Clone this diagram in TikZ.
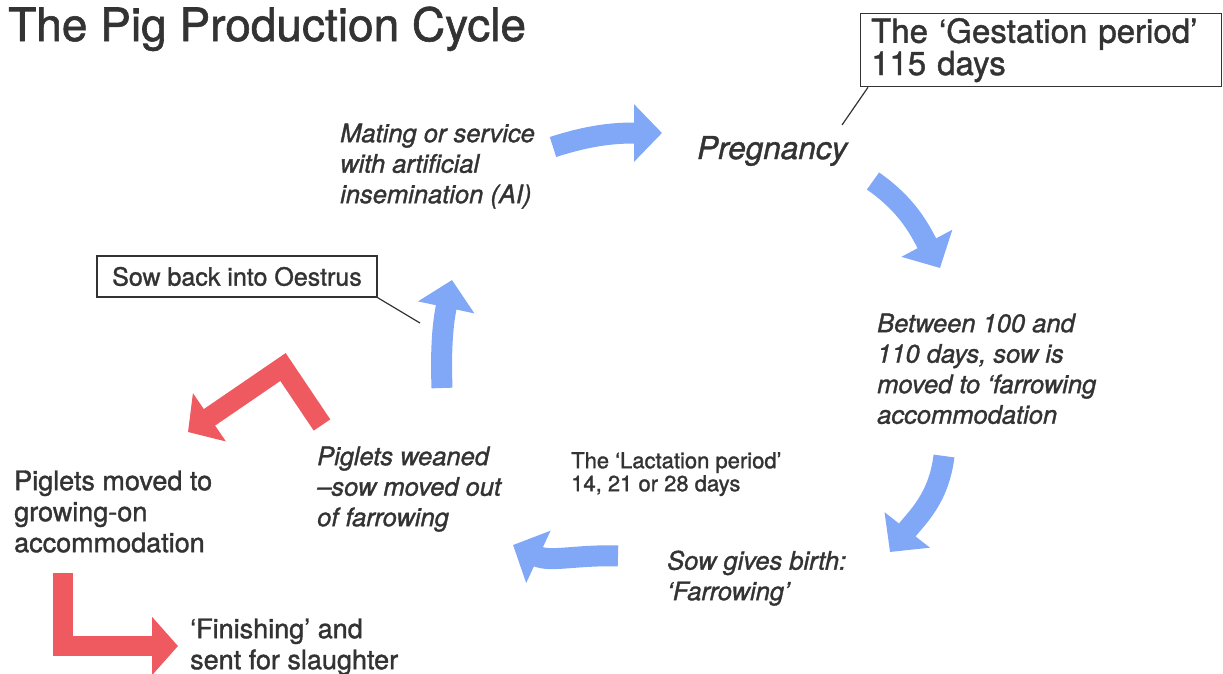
\documentclass[tikz,border=0pt]{standalone}
\usepackage{fontspec}
\setmainfont{TeX Gyre Heros}[FakeBold=1.3]
\usetikzlibrary{arrows.meta}
\definecolor{txt}{HTML}{333333}
\definecolor{pblue}{HTML}{80A8F6}
\definecolor{pred}{HTML}{EE5A60}
\begin{document}
\begin{tikzpicture}[x=1pt,y=-1pt,
  lbl/.style={anchor=north west, inner sep=0pt, text=txt, align=left},
  one/.style={anchor=base west, inner sep=0pt, text=txt},
  fA/.style={font=\fontsize{25.5}{30.5}\selectfont\itshape},
  fB/.style={font=\fontsize{27}{31}\selectfont},
  boxed/.style={draw=txt, line width=1.3pt, inner sep=0pt, text=txt},
  leader/.style={draw=txt, line width=1.2pt},
  bluearrow/.style={draw=pblue, line width=21pt,
     -{Triangle[length=28pt,width=56pt]}},
  redarrow/.style={draw=pred, line width=20pt, line join=miter,
     -{Triangle[length=26pt,width=57pt]}}
]
\useasboundingbox (0,0) rectangle (1223,673);

% texts
\node[one, font=\fontsize{46}{50}\selectfont] (title) at (8,41) {The Pig Production Cycle};
\node[boxed, anchor=north west, minimum width=361pt, minimum height=73pt,
      text width=340pt, align=left, font=\fontsize{33}{28}\selectfont] (gest) at (860,13)
      {The ‘Gestation period’\\115 days};
\node[one, font=\fontsize{31.5}{34}\selectfont\itshape] (preg) at (697,159) {Pregnancy};
\node[lbl, fA] (mating) at (340,123.4) {Mating or service\\with artificial\\insemination (AI)};
\node[lbl, fA] (between) at (877,313.4) {Between 100 and\\110 days, sow is\\moved to ‘farrowing\\accommodation};
\node[boxed, minimum width=280pt, minimum height=41pt,
      font=\fontsize{25}{30}\selectfont] (sowback) at (237,276.5) {Sow back into Oestrus};
\node[lbl, fB] (moved) at (14,470.3) {Piglets moved to\\growing-on\\accommodation};
\node[lbl, fB] (finish) at (190,618.3) {‘Finishing’ and\\sent for slaughter};
\node[lbl, fA] (weaned) at (317,446.4) {Piglets weaned\\–sow moved out\\of farrowing};
\node[lbl, font=\fontsize{22}{23}\selectfont] (lact) at (571,452) {The ‘Lactation period’\\14, 21 or 28 days};
\node[lbl, fA] (birth) at (667,550.4) {Sow gives birth:\\‘Farrowing’};

% leader lines
\coordinate (gl) at (842,125);
\coordinate (sl) at (420,323);
\draw[leader] ([xshift=8pt]gest.south west) -- (gl);
\draw[leader] (sowback.south east) -- (sl);

% blue cycle arrows
\coordinate (a1s) at (553,147);
\coordinate (a1e) at (662,133);
\coordinate (a2s) at (873,181);
\coordinate (a2e) at (940,268);
\coordinate (a3s) at (944,456);
\coordinate (a3e) at (890,552);
\coordinate (a4s) at (618,556);
\coordinate (a4e) at (513,545);
\coordinate (a5s) at (442,388);
\coordinate (a5e) at (452,280);
\draw[bluearrow] (a1s) to[out=18,in=180] (a1e);
\draw[bluearrow] (a2s) to[out=-35,in=118] (a2e);
\draw[bluearrow] (a3s) to[out=-97,in=52] (a3e);
\draw[bluearrow] (a4s) to[out=178,in=-25] (a4e);
\draw[bluearrow] (a5s) to[out=92,in=-102] (a5e);

% red arrows
\coordinate (r1s) at (322,425);
\coordinate (r1c) at (283,367);
\coordinate (r1e) at (188,432);
\coordinate (r2s) at (63,573);
\coordinate (r2c) at (63,646);
\coordinate (r2e) at (178,646);
\draw[redarrow] (r1s) -- (r1c) -- (r1e);
\draw[redarrow] (r2s) -- (r2c) -- (r2e);
\end{tikzpicture}
\end{document}
